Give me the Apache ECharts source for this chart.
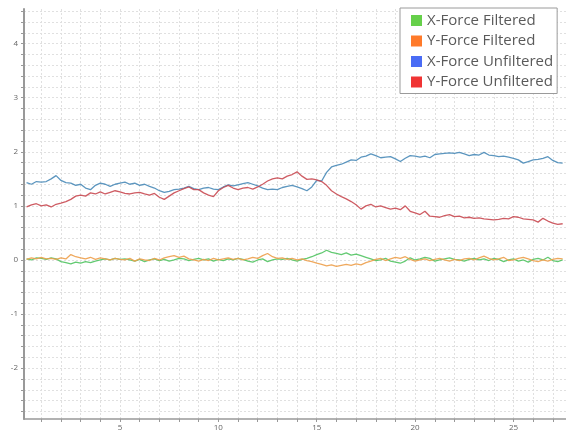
<!doctype html>
<html>
<head>
<meta charset="UTF-8">
<title>Force</title>
<script src="https://cdn.jsdelivr.net/npm/echarts@6/dist/echarts.min.js"></script>
<style>
  html, body { margin: 0; padding: 0; background: #fff; }
  #chart { width: 566px; height: 432px; }
</style>
</head>
<body>
<div id="chart"></div>
<script>
// sample times (s)
var times = [
  0.25,0.5,0.75,1,1.25,1.5,1.75,2,2.25,2.5,2.75,3,3.25,3.5,3.75,4,4.25,4.5,4.75,5,
  5.25,5.5,5.75,6,6.25,6.5,6.75,7,7.25,7.5,7.75,8,8.25,8.5,8.75,9,9.25,9.5,9.75,10,
  10.25,10.5,10.75,11,11.25,11.5,11.75,12,12.25,12.5,12.75,13,13.25,13.5,13.75,14,14.25,14.5,14.75,15,
  15.25,15.5,15.75,16,16.25,16.5,16.75,17,17.25,17.5,17.75,18,18.25,18.5,18.75,19,19.25,19.5,19.75,20,
  20.25,20.5,20.75,21,21.25,21.5,21.75,22,22.25,22.5,22.75,23,23.25,23.5,23.75,24,24.25,24.5,24.75,25,
  25.25,25.5,25.75,26,26.25,26.5,26.75,27,27.25,27.5
];

var xFiltered = [
  0.02,0.00,0.04,0.03,0.01,0.04,0.02,-0.03,-0.05,-0.07,-0.04,-0.06,-0.03,-0.05,-0.02,0.00,0.02,0.00,0.03,0.01,
  0.02,0.00,-0.02,0.01,-0.03,0.00,0.02,-0.01,0.01,-0.02,0.00,0.03,0.02,-0.01,0.01,0.03,0.00,0.02,-0.02,0.01,
  -0.01,0.02,0.00,0.03,0.01,-0.02,-0.04,0.00,0.02,-0.03,0.00,0.02,0.01,0.03,0.00,-0.02,0.01,0.03,0.06,0.10,
  0.13,0.18,0.14,0.12,0.10,0.13,0.09,0.11,0.08,0.05,0.02,-0.01,0.00,0.03,-0.02,-0.04,-0.06,-0.02,0.04,0.00,
  0.02,0.05,0.03,-0.02,0.00,0.02,0.04,0.01,0.00,-0.02,0.01,0.03,0.00,0.02,-0.01,0.03,0.01,-0.03,0.00,0.02,
  -0.02,0.00,-0.04,0.01,0.03,0.00,0.05,-0.01,-0.03,0.00
];

var yFiltered = [
  0.01,0.04,0.02,0.05,0.02,0.03,0.01,0.04,0.02,0.10,0.06,0.04,0.02,0.05,0.01,0.04,0.02,0.00,0.03,0.01,
  0.00,0.03,-0.02,0.02,0.00,-0.01,0.03,0.00,0.04,0.06,0.08,0.05,0.07,0.02,0.00,-0.02,0.01,-0.01,0.03,0.00,
  0.02,0.04,0.01,0.03,0.00,0.02,0.05,0.03,0.08,0.12,0.06,0.03,0.04,0.01,0.03,0.00,0.02,-0.01,-0.03,-0.06,
  -0.08,-0.11,-0.09,-0.12,-0.10,-0.08,-0.10,-0.07,-0.09,-0.05,-0.02,0.01,0.03,-0.01,0.02,0.05,0.03,0.06,0.01,-0.02,
  0.00,0.02,-0.01,0.01,0.03,0.00,-0.02,0.01,-0.01,0.02,0.03,0.00,0.04,0.07,0.03,0.00,0.02,0.05,-0.01,0.00,
  0.03,0.05,0.02,-0.01,-0.03,0.00,-0.02,0.01,0.03,0.02
];

var xUnfiltered = [
  1.43,1.40,1.45,1.44,1.45,1.50,1.56,1.47,1.43,1.42,1.38,1.40,1.33,1.30,1.38,1.42,1.40,1.36,1.40,1.42,
  1.44,1.40,1.42,1.38,1.40,1.36,1.33,1.28,1.25,1.27,1.30,1.31,1.33,1.36,1.32,1.30,1.33,1.34,1.31,1.30,
  1.35,1.39,1.37,1.39,1.41,1.43,1.40,1.37,1.33,1.30,1.31,1.30,1.34,1.36,1.38,1.35,1.32,1.28,1.35,1.47,
  1.46,1.62,1.72,1.75,1.77,1.81,1.85,1.84,1.90,1.92,1.96,1.93,1.89,1.90,1.91,1.87,1.82,1.88,1.93,1.92,
  1.90,1.92,1.89,1.95,1.96,1.97,1.98,1.97,1.99,1.96,1.93,1.95,1.94,1.99,1.94,1.93,1.91,1.92,1.90,1.88,
  1.85,1.79,1.82,1.85,1.86,1.88,1.91,1.84,1.80,1.79
];

var yUnfiltered = [
  0.98,1.02,1.04,1.00,1.02,0.98,1.03,1.05,1.08,1.12,1.18,1.20,1.18,1.24,1.22,1.26,1.22,1.25,1.28,1.26,
  1.23,1.22,1.24,1.25,1.22,1.20,1.23,1.16,1.12,1.18,1.24,1.28,1.32,1.35,1.30,1.30,1.24,1.20,1.17,1.28,
  1.34,1.38,1.33,1.30,1.33,1.34,1.31,1.35,1.40,1.46,1.50,1.52,1.50,1.55,1.58,1.63,1.55,1.49,1.50,1.48,
  1.45,1.38,1.28,1.22,1.17,1.13,1.08,1.02,0.94,1.00,1.03,0.98,1.00,0.97,0.94,0.96,0.93,1.00,0.90,0.87,
  0.84,0.90,0.81,0.80,0.79,0.82,0.84,0.80,0.81,0.78,0.79,0.77,0.78,0.76,0.75,0.74,0.75,0.77,0.76,0.80,
  0.79,0.76,0.75,0.74,0.70,0.77,0.72,0.68,0.66,0.67
];

// axis ticks and labels
var xTicks = [1,2,3,4,5,6,7,8,9,10,11,12,13,14,15,16,17,18,19,20,21,22,23,24,25,26,27];
var xLabels = [5,10,15,20,25];
var yTicks = [-2.8,-2.6,-2.4,-2.2,-2,-1.8,-1.6,-1.4,-1.2,-1,-0.8,-0.6,-0.4,-0.2,0,
  0.2,0.4,0.6,0.8,1,1.2,1.4,1.6,1.8,2,2.2,2.4,2.6,2.8,3,3.2,3.4,3.6,3.8,4,4.2,4.4,4.6];
var yLabels = [-2,-1,0,1,2,3,4];

var names = ['X-Force Filtered', 'Y-Force Filtered', 'X-Force Unfiltered', 'Y-Force Unfiltered'];
var values = [xFiltered, yFiltered, xUnfiltered, yUnfiltered];
var legendColors = ['#66d04a', '#ff7a2a', '#4a6cf5', '#f03434'];
var lineColors = ['#52c463', '#eda04c', '#4a8bb8', '#c94a52'];

function pairs(ys) {
  var out = [];
  for (var i = 0; i < ys.length; i++) out.push([times[i], ys[i]]);
  return out;
}

var series = [];
for (var s = 0; s < names.length; s++) {
  series.push({
    name: names[s],
    type: 'line',
    data: pairs(values[s]),
    showSymbol: false,
    symbol: 'none',
    itemStyle: { color: legendColors[s] },
    lineStyle: { color: lineColors[s], width: 1.3, opacity: 0.9 },
    emphasis: { disabled: true }
  });
}

var gridLine = { show: true, lineStyle: { color: '#e0e0e0', type: [2, 2], width: 1 } };

var option = {
  animation: false,
  backgroundColor: '#fff',
  grid: { left: 24, right: 0, top: 9, bottom: 11 },
  legend: {
    data: names,
    orient: 'vertical',
    left: 400,
    top: 8,
    padding: [5, 4, 4, 11],
    itemGap: 5.5,
    itemWidth: 11,
    itemHeight: 11,
    icon: 'rect',
    backgroundColor: '#fff',
    borderColor: '#9a9a9a',
    borderWidth: 1,
    borderRadius: 0,
    textStyle: { fontFamily: 'Open Sans', fontSize: 15, color: '#5a5a5a', lineHeight: 15 }
  },
  xAxis: {
    type: 'value',
    min: 0.12,
    max: 27.67,
    axisLine: { show: true, onZero: false, lineStyle: { color: '#999', width: 1.5 } },
    axisTick: { show: true, length: 3, customValues: xTicks, lineStyle: { color: '#999' } },
    axisLabel: { customValues: xLabels, margin: 5, fontSize: 8, color: '#666', fontFamily: 'Open Sans' },
    splitLine: gridLine
  },
  yAxis: {
    type: 'value',
    min: -2.94,
    max: 4.64,
    axisLine: { show: true, onZero: false, lineStyle: { color: '#999', width: 2 } },
    axisTick: { show: true, length: 3, customValues: yTicks, lineStyle: { color: '#999' } },
    axisLabel: { customValues: yLabels, margin: 6, fontSize: 8, color: '#666', fontFamily: 'Open Sans' },
    splitLine: gridLine
  },
  series: series
};

var myChart = echarts.init(document.getElementById('chart'));
myChart.setOption(option);
</script>
</body>
</html>
